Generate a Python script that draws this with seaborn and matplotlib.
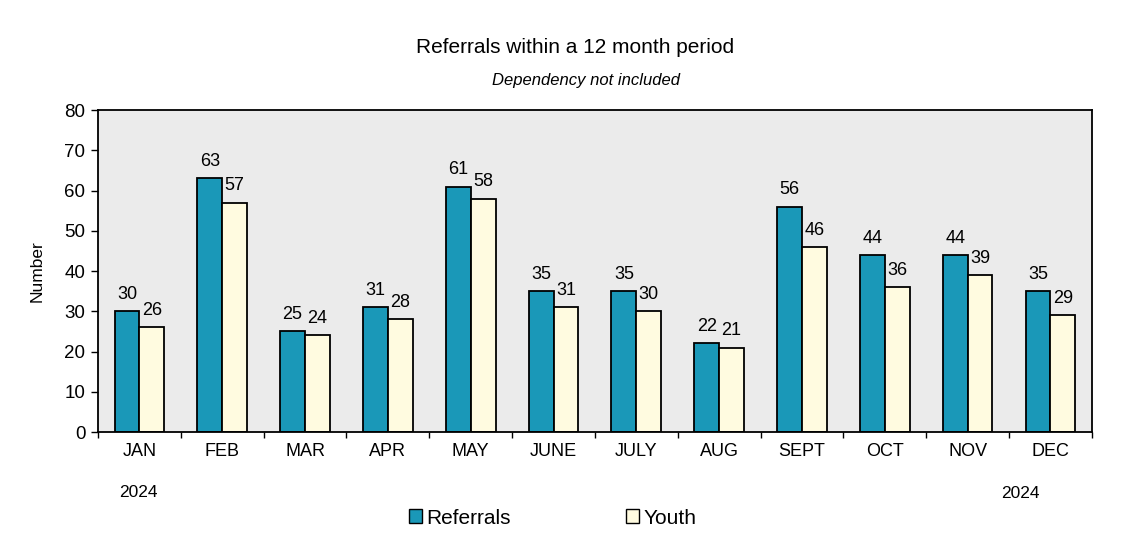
import matplotlib
matplotlib.use("Agg")
import matplotlib.pyplot as plt
import seaborn as sns
import pandas as pd
from matplotlib.patches import Patch

months = ["JAN", "FEB", "MAR", "APR", "MAY", "JUNE", "JULY", "AUG", "SEPT", "OCT", "NOV", "DEC"]
referrals = [30, 63, 25, 31, 61, 35, 35, 22, 56, 44, 44, 35]
youth = [26, 57, 24, 28, 58, 31, 30, 21, 46, 36, 39, 29]
series = ["Referrals", "Youth"]
colors = ["#1a98b8", "#fffbe0"]

df = pd.DataFrame({
    "Month": months * 2,
    "Value": referrals + youth,
    "Series": [series[0]] * len(months) + [series[1]] * len(months),
})

sns.set_theme(style="ticks", rc={"text.color": "black", "axes.labelcolor": "black",
                                 "xtick.color": "black", "ytick.color": "black"})
plt.rcParams["font.family"] = ["Liberation Sans", "DejaVu Sans"]

fig = plt.figure(figsize=(11.21, 5.56), dpi=100)
ax = fig.add_axes([0.0874, 0.223, 0.8866, 0.579])
ax.set_facecolor("#ebebeb")

sns.barplot(data=df, x="Month", y="Value", hue="Series", order=months,
            hue_order=series, palette=colors, saturation=1, width=0.6,
            edgecolor="black", linewidth=1.3, ax=ax, legend=False)

for c in ax.containers:
    ax.bar_label(c, fmt="%d", padding=6, fontsize=13)

ax.set_ylim(0, 80)
ax.set_xlim(-0.5, 11.5)
ax.set_yticks(range(0, 81, 10))
ax.set_xticks([i + 0.5 for i in range(-1, 12)], minor=True)
ax.tick_params(axis="x", which="minor", bottom=True, direction="out", length=4, color="black", width=1)
ax.tick_params(axis="x", which="major", bottom=False, length=0, labelsize=13, pad=8)
ax.tick_params(axis="y", left=True, direction="out", length=5, color="black", width=1, labelsize=13.5, pad=4)
ax.set_xlabel("")
ax.set_ylabel("Number", fontsize=12.5, labelpad=14)
for s in ax.spines.values():
    s.set_visible(True)
    s.set_color("black")
    s.set_linewidth(1.3)

fig.text(0.513, 0.915, "Referrals within a 12 month period", ha="center", va="center", fontsize=15)
fig.text(0.523, 0.855, "Dependency not included", ha="center", va="center", fontsize=12, style="italic")
fig.text(0.123, 0.114, "2024", ha="center", va="center", fontsize=12.5)
fig.text(0.910, 0.112, "2024", ha="center", va="center", fontsize=12.5)

handles = [Patch(facecolor=colors[0], edgecolor="black", label=series[0]),
           Patch(facecolor=colors[1], edgecolor="black", label=series[1])]
fig.legend(handles=handles, loc="center", bbox_to_anchor=(0.493, 0.068), ncol=2,
           frameon=False, fontsize=15, handlelength=0.65, handleheight=0.65,
           handletextpad=0.2, columnspacing=5.5)

fig.savefig("out.png", dpi=100)
